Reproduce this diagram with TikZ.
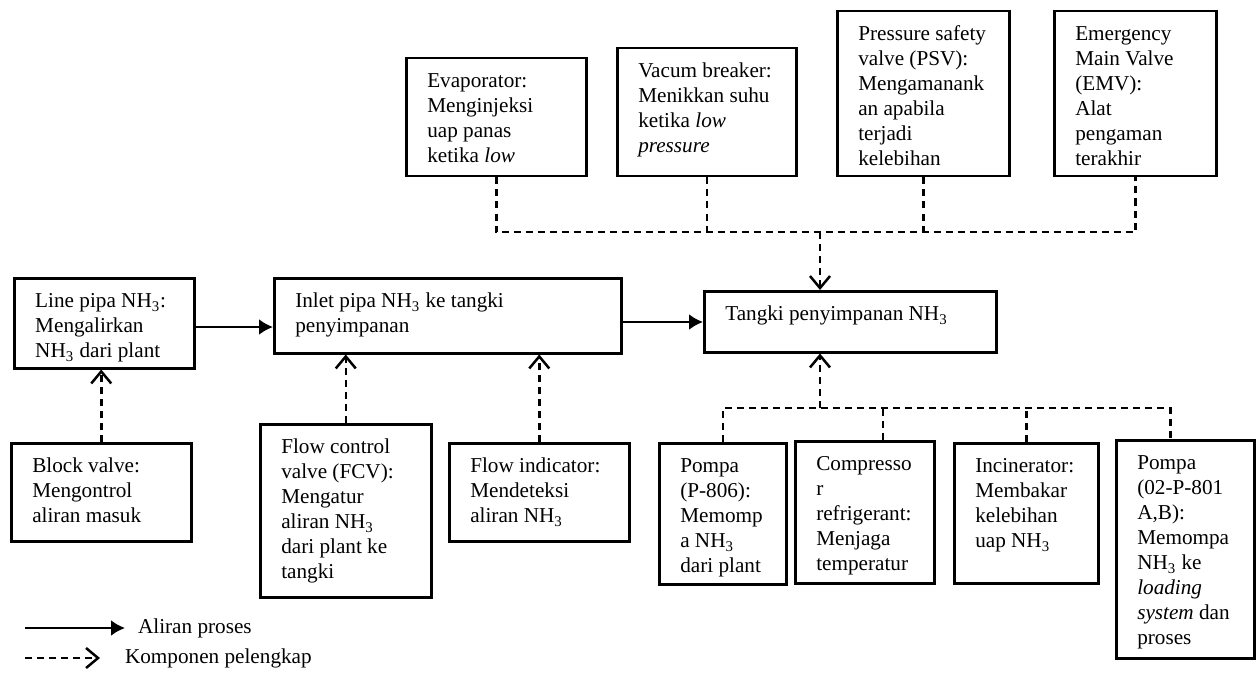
\documentclass[tikz,border=0pt]{standalone}
\usepackage{fontspec}
\setmainfont{Liberation Serif}
\usetikzlibrary{%
  arrows.meta,
  calc
}

\newcommand{\nh}{NH\textsubscript{3}}
\newcommand{\isi}[3]{\parbox[c][#2][t]{#1}{\begin{tabular}[t]{@{}l@{}}#3\end{tabular}}}

\begin{document}
\begin{tikzpicture}[x=0.5pt, y=-0.5pt,
    font=\fontsize{10.6}{12.5}\selectfont,
    kotak/.style={draw, line width=1.25pt, anchor=north west, inner xsep=10.5pt, inner ysep=6pt},
    alir/.style={line width=1.25pt, -{Latex[length=7pt, width=8pt]}},
    putus/.style={line width=1.25pt, dash pattern=on 3.5pt off 2.5pt},
    pelengkap/.style={putus, -{Straight Barb[length=6pt, width=10pt]}}]
    \useasboundingbox (0,0) rectangle (1256,679);

    \node[kotak] (evap) at (405,57) {\isi{69pt}{47pt}{Evaporator:\\ Menginjeksi\\ uap panas\\ ketika \textit{low}}};
    \node[kotak] (vacum) at (616,47) {\isi{68.5pt}{52pt}{Vacum breaker:\\ Menikkan suhu\\ ketika \textit{low}\\ \textit{pressure}}};
    \node[kotak] (psv) at (836,10) {\isi{65pt}{70.5pt}{Pressure safety\\ valve (PSV):\\ Mengamanank\\ an apabila\\ terjadi\\ kelebihan}};
    \node[kotak] (emv) at (1053,10) {\isi{60pt}{70.5pt}{Emergency\\ Main Valve\\ (EMV):\\ Alat\\ pengaman\\ terakhir}};

    \node[kotak] (line) at (13,277) {\isi{69pt}{33pt}{Line pipa \nh:\\ Mengalirkan\\ \nh{} dari plant}};
    \node[kotak] (inlet) at (273,277) {\isi{152.5pt}{25.5pt}{Inlet pipa \nh{} ke tangki\\ penyimpanan}};
    \node[kotak] (tangki) at (703,290) {\isi{125pt}{18.5pt}{Tangki penyimpanan \nh}};

    \node[kotak] (block) at (10,442) {\isi{69pt}{37pt}{Block valve:\\ Mengontrol\\ aliran masuk}};
    \node[kotak] (fcv) at (259,423) {\isi{64.5pt}{74.5pt}{Flow control\\ valve (FCV):\\ Mengatur\\ aliran \nh\\ dari plant ke\\ tangki}};
    \node[kotak] (flow) at (448,442) {\isi{69pt}{37pt}{Flow indicator:\\ Mendeteksi\\ aliran \nh}};

    \node[kotak] (p806) at (658,442) {\isi{42.5pt}{58.5pt}{Pompa\\ (P-806):\\ Memomp\\ a \nh\\ dari plant}};
    \node[kotak] (komp) at (794,440) {\isi{48.5pt}{59pt}{Compresso\\ r\\ refrigerant:\\ Menjaga\\ temperatur}};
    \node[kotak] (incin) at (953,442) {\isi{51pt}{58pt}{Incinerator:\\ Membakar\\ kelebihan\\ uap \nh}};
    \node[kotak] (pompa) at (1115,439) {\isi{48pt}{97pt}{Pompa\\ (02-P-801\\ A,B):\\ Memompa\\ \nh{} ke\\ \textit{loading}\\ \textit{system} dan\\ proses}};

    \coordinate (atas) at (820,232);
    \coordinate (bawah) at (820,408);

    \draw[putus] (evap.south) |- (emv.south |- atas) -- (emv.south);
    \draw[putus] (vacum.south) -- (vacum.south |- atas);
    \draw[putus] (psv.south) -- (psv.south |- atas);
    \draw[pelengkap] (atas) -- (atas |- tangki.north);

    \draw[putus] (p806.north) |- ([xshift=-7.5pt]pompa.north |- bawah) -- ([xshift=-7.5pt]pompa.north);
    \draw[putus] ([xshift=9pt]komp.north) -- ([xshift=9pt]komp.north |- bawah);
    \draw[putus] (incin.north) -- (incin.north |- bawah);
    \draw[pelengkap] (bawah) -- (bawah |- tangki.south);

    \draw[alir] (line.east |- 0,327) -- (inlet.west |- 0,327);
    \draw[alir] (inlet.east |- 0,322) -- (tangki.west |- 0,322);

    \draw[pelengkap] (block.north) -- (block.north |- line.south);
    \draw[pelengkap] (fcv.north) -- (fcv.north |- inlet.south);
    \draw[pelengkap] (flow.north) -- (flow.north |- inlet.south);

    \node[anchor=west] (ket1) at (131,628) {Aliran proses};
    \node[anchor=west] (ket2) at (118,658) {Komponen pelengkap};
    \coordinate (a1) at (25,628);
    \coordinate (a2) at (25,658);
    \coordinate (b2) at (100,658);
    \draw[alir, shorten >=3pt] (a1) -- (ket1.west);
    \draw[pelengkap] (a2) -- (b2);

\end{tikzpicture}
\end{document}
